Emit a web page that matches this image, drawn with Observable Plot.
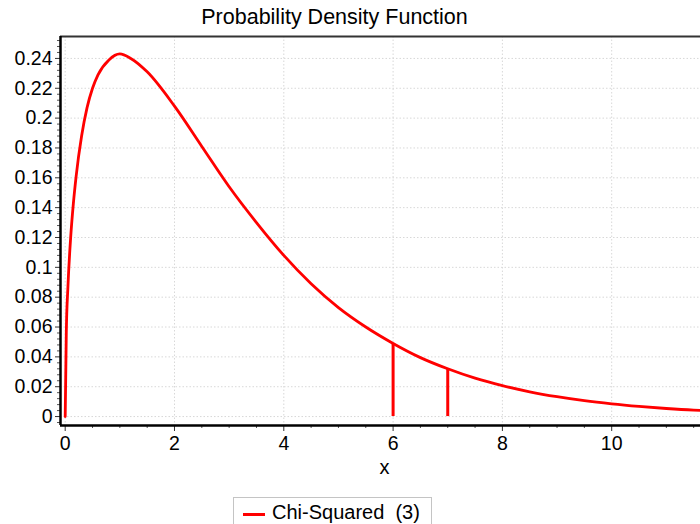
<!DOCTYPE html>
<html><head><meta charset="utf-8">
<script src="https://cdn.jsdelivr.net/npm/d3@7"></script>
<script src="https://cdn.jsdelivr.net/npm/@observablehq/plot@0.6"></script>
<style>
html,body{margin:0;padding:0;background:#fff;width:700px;height:524px;overflow:hidden;font-family:"Liberation Sans",Arial,sans-serif;}
#wrap{position:relative;width:700px;height:524px;}
#legend{position:absolute;left:233px;top:497px;width:199px;height:40px;border:1.5px solid #c4c4c4;box-sizing:border-box;background:#fff;}
#legend .sw{position:absolute;left:9px;top:15px;width:22px;height:3px;background:#ff0000;}
#legend .lb{position:absolute;left:38px;top:3px;font-size:20px;color:#000;white-space:pre;}
</style></head>
<body><div id="wrap"><div id="chart"></div>
<div id="legend"><div class="sw"></div><div class="lb">Chi-Squared  (3)</div></div></div>
<script>
// Values
const xs = [0, 0.02, 0.05, 0.1, 0.15, 0.2, 0.3, 0.4, 0.5, 0.6, 0.8, 1, 1.2, 1.5, 2, 2.5, 3, 3.5, 4, 4.5, 5, 5.5, 6, 6.5, 7, 7.5, 8, 8.5, 9, 9.5, 10, 10.5, 11, 11.5, 11.62];
const ys = [0, 0.056, 0.087, 0.12, 0.143, 0.161, 0.188, 0.207, 0.22, 0.229, 0.239, 0.243, 0.24, 0.231, 0.208, 0.181, 0.154, 0.13, 0.108, 0.089, 0.073, 0.06, 0.049, 0.0395, 0.032, 0.0257, 0.0207, 0.0166, 0.0133, 0.0106, 0.0085, 0.0068, 0.0054, 0.0043, 0.0041];
const markX = [6, 7];
const markY = [0.049, 0.032];
const xTicks = [0, 2, 4, 6, 8, 10];
const xMinor = [0.5, 1, 1.5, 2.5, 3, 3.5, 4.5, 5, 5.5, 6.5, 7, 7.5, 8.5, 9, 9.5, 10.5, 11, 11.5];
const yTicks = [0, 0.02, 0.04, 0.06, 0.08, 0.1, 0.12, 0.14, 0.16, 0.18, 0.2, 0.22, 0.24];
const yMinor = [-0.004, 0.004, 0.008, 0.012, 0.016, 0.024, 0.028, 0.032, 0.036, 0.044, 0.048, 0.052, 0.056, 0.064, 0.068, 0.072, 0.076, 0.084, 0.088, 0.092, 0.096, 0.104, 0.108, 0.112, 0.116, 0.124, 0.128, 0.132, 0.136, 0.144, 0.148, 0.152, 0.156, 0.164, 0.168, 0.172, 0.176, 0.184, 0.188, 0.192, 0.196, 0.204, 0.208, 0.212, 0.216, 0.224, 0.228, 0.232, 0.236, 0.244, 0.248, 0.252];
const title = "Probability Density Function";
const xLabel = "x";

const curve = xs.map((x, i) => ({x, y: ys[i]}));
const drops = markX.map((x, i) => ({x, y: markY[i]}));
const X0 = -0.086, X1 = 11.625, Y0 = -0.006, Y1 = 0.2547;
const H = 490;

const chart = Plot.plot({
  width: 700, height: H,
  marginLeft: 60, marginRight: 0, marginTop: 36, marginBottom: H - 425,
  style: {fontFamily: '"Liberation Sans", Arial, sans-serif', fontSize: "19.5px", background: "#fff", color: "#000"},
  x: {domain: [X0, X1]},
  y: {domain: [Y0, Y1]},
  marks: [
    Plot.ruleX(xTicks, {stroke: "#d8d8d8", strokeDasharray: "1.5,2", strokeWidth: 1}),
    Plot.ruleY(yTicks, {stroke: "#d8d8d8", strokeDasharray: "1.5,2", strokeWidth: 1}),
    Plot.axisX(xMinor, {tickSize: 3, text: null, stroke: "#555", label: null}),
    Plot.axisX(xTicks, {tickSize: 6, tickPadding: 5, fontSize: 19.5, stroke: "#333", label: null, tickFormat: d => String(d)}),
    Plot.axisY(yMinor, {tickSize: 3, text: null, stroke: "#555", label: null}),
    Plot.axisY(yTicks, {tickSize: 5, tickPadding: 3, fontSize: 19.5, stroke: "#333", label: null, tickFormat: d => String(d)}),
    Plot.ruleY([Y1], {stroke: "#333", strokeWidth: 2}),
    Plot.ruleX([X0], {stroke: "#000", strokeWidth: 2.5}),
    Plot.ruleY([Y0], {stroke: "#000", strokeWidth: 2.5}),
    Plot.ruleX(drops, {x: "x", y1: 0, y2: "y", stroke: "#ff0000", strokeWidth: 3}),
    Plot.line(curve, {x: "x", y: "y", stroke: "#ff0000", strokeWidth: 2.8, curve: "monotone-x", clip: true}),
    Plot.text([title], {frameAnchor: "top", lineAnchor: "middle", dy: -19, dx: -46, text: d => d, fontSize: 21.5}),
    Plot.text([xLabel], {frameAnchor: "bottom", lineAnchor: "middle", dy: 42, dx: 4, text: d => d, fontSize: 20})
  ]
});
document.getElementById("chart").appendChild(chart);
</script>
</body></html>
